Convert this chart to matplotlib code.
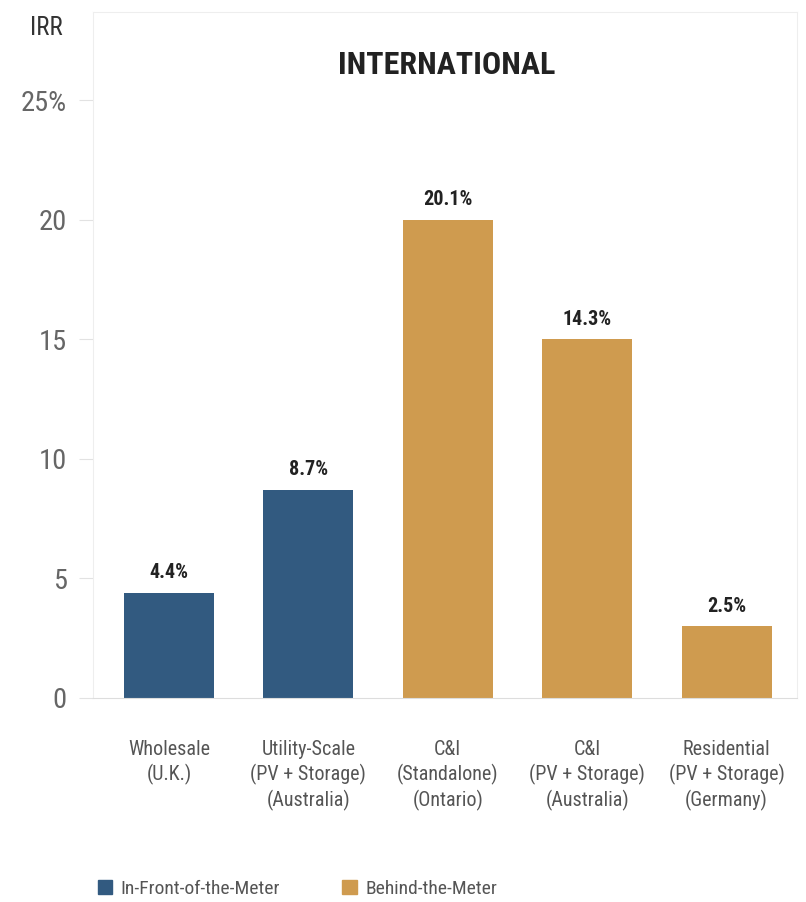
import matplotlib
matplotlib.use("Agg")
import matplotlib.pyplot as plt
from matplotlib.patches import Patch
from matplotlib.ticker import FuncFormatter
from matplotlib.transforms import blended_transform_factory

categories = ["Wholesale\n(U.K.)",
              "Utility-Scale\n(PV + Storage)\n(Australia)",
              "C&I\n(Standalone)\n(Ontario)",
              "C&I\n(PV + Storage)\n(Australia)",
              "Residential\n(PV + Storage)\n(Germany)"]
irr_bar = [4.4, 8.7, 20.0, 15.0, 3.0]          # bar heights as drawn
irr_text = ["4.4%", "8.7%", "20.1%", "14.3%", "2.5%"]  # printed labels
groups = ["front", "front", "behind", "behind", "behind"]
group_names = {"front": "In-Front-of-the-Meter", "behind": "Behind-the-Meter"}
yticks = [0, 5, 10, 15, 20, 25]

blue = "#325a80"
gold = "#cf9b4f"
colors = {"front": blue, "behind": gold}

plt.rcParams['font.family'] = ['Roboto Condensed', 'DejaVu Sans']

fig = plt.figure(figsize=(8.06, 9.02), dpi=100)
ax = fig.add_axes([93/806, 1-698/902, (797-93)/806, (698-12)/902])

x = list(range(len(categories)))
ax.bar(x, irr_bar, width=0.645, color=[colors[g] for g in groups])
for xi, h, t in zip(x, irr_bar, irr_text):
    ax.text(xi, h + 0.45, t, ha='center', va='bottom', fontsize=14.5,
            fontweight='bold', color='#222222')

ax.set_xlim(-0.545, 4.505)
ax.set_ylim(0, 28.7)
ax.set_yticks(yticks)
ax.yaxis.set_major_formatter(FuncFormatter(lambda v, p: "%d%%" % v if v == 25 else "%d" % v))
ax.tick_params(axis='y', length=10, color='#e2e2e2', labelsize=20.5, labelcolor='#666666', pad=9)
ax.set_xticks(x)
ax.set_xticklabels(categories, fontsize=14.5, color='#555555', linespacing=1.3)
ax.tick_params(axis='x', length=0, pad=30)

for s in ['top', 'right', 'left']:
    ax.spines[s].set_color('#eeeeee')
ax.spines['bottom'].set_color('#dddddd')

trans = blended_transform_factory(ax.transAxes, ax.transData)
ax.text(0.503, 26.5, "INTERNATIONAL", transform=trans,
        ha='center', va='center', fontsize=23, fontweight='bold', color='#222222')

fig.text(46/806, 1-28/902, "IRR", ha='center', va='center', fontsize=18, color='#333333')

handles = [Patch(color=colors[k], label=group_names[k]) for k in ["front", "behind"]]
fig.legend(handles=handles, loc='center left', bbox_to_anchor=(80/806, 1-889/902), ncol=2,
           frameon=False, handlelength=0.77, handleheight=0.77, handletextpad=0.42,
           columnspacing=3.2, prop={'size': 14}, labelcolor='#555555')

fig.savefig("out.png", dpi=100, facecolor='white')
